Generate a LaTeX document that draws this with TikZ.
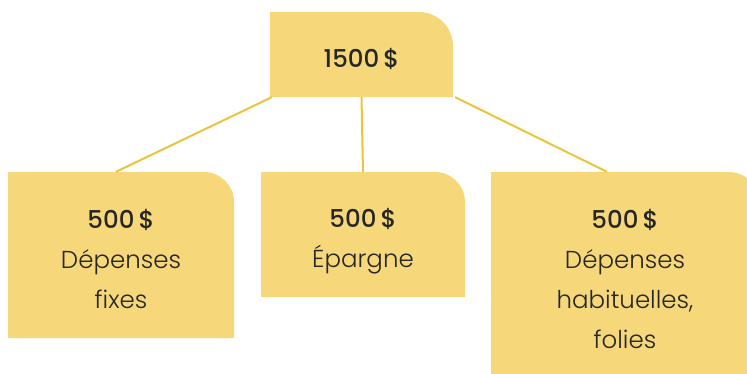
\documentclass[tikz,border=0pt]{standalone}
\usepackage{fontspec}
\setmainfont{Poppins Light}[BoldFont={Poppins Medium}]
\definecolor{jaune}{HTML}{F6D77A}
\definecolor{ocre}{HTML}{EAC53C}
\definecolor{encre}{HTML}{262626}
\tikzset{
  carte/.style={inner sep=0pt, align=center, text=encre,
    font=\fontsize{24.5}{40}\selectfont,
    path picture={
      \fill[jaune] (path picture bounding box.south west)
        -- (path picture bounding box.north west)
        -- ([xshift=-#1]path picture bounding box.north east)
        arc[start angle=90, end angle=0, radius=#1]
        -- (path picture bounding box.south east) -- cycle;
    }},
  carte/.default=30pt,
  lien/.style={ocre, line width=2pt}
}
\newcommand{\haut}[1]{\rule{0pt}{#1}}
\begin{document}
\begin{tikzpicture}[x=1pt, y=-1pt]
  \useasboundingbox (0,0) rectangle (747,373);
  % Montant total
  \node[carte=34pt, minimum width=183pt, minimum height=85pt] (total) at (361.5,54.5) {\haut{28pt}\bfseries 1500\,\$};
  % Trois parts
  \node[carte, minimum width=226pt, minimum height=166pt] (fixes) at (121,255) {\haut{28pt}\bfseries 500\,\$\\Dépenses\\fixes};
  \node[carte, minimum width=204pt, minimum height=125pt] (epargne) at (363,234.5) {\haut{33pt}\bfseries 500\,\$\\Épargne};
  \node[carte, minimum width=268pt, minimum height=214pt] (folies) at (625,279) {\bfseries 500\,\$\\Dépenses\\habituelles,\\folies};
  % Liens
  \draw[lien] ([xshift=2pt]total.south west) -- ([xshift=-5pt]fixes.north);
  \draw[lien] (total.south) -- (epargne.north);
  \draw[lien] ([xshift=2pt]total.south east) -- ([xshift=-18pt]folies.north);
\end{tikzpicture}
\end{document}
